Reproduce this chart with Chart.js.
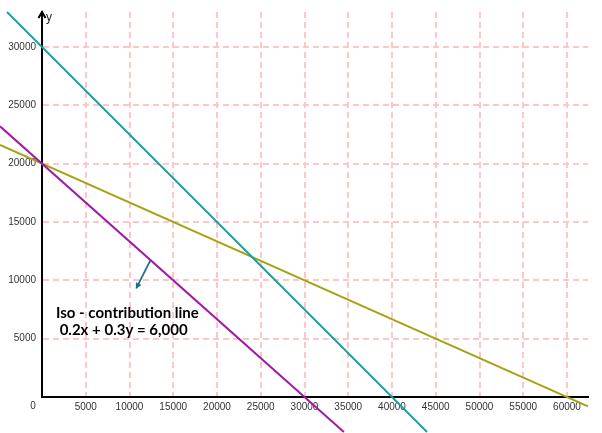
<!DOCTYPE html>
<html><head><meta charset="utf-8">
<script src="https://cdn.jsdelivr.net/npm/chart.js@4"></script>
<style>html,body{margin:0;padding:0;background:#fff}</style>
</head><body>
<canvas id="c" width="602" height="433"></canvas>
<script>
// Tick values
const xTicks = [0, 5000, 10000, 15000, 20000, 25000, 30000, 35000, 40000, 45000, 50000, 55000, 60000];
const yTicks = [0, 5000, 10000, 15000, 20000, 25000, 30000];

// Constraint lines (end points)
const tealX = [-4000, 44000];
const tealY = [33000, -3000];
const purpleX = [-4800, 34500];
const purpleY = [23200, -3000];
const oliveX = [-4800, 62400];
const oliveY = [21600, -800];

// Annotation
const annotLines = ['Iso - contribution line', ' 0.2x + 0.3y = 6,000'];
const annotPos = [1600, 7150];       // data coords of text start
const arrowFrom = [12400, 11733];
const arrowTo = [10720, 9244];

const toPts = (xs, ys) => xs.map((x, i) => ({x: x, y: ys[i]}));

const overlay = {
  id: 'overlay',
  afterDatasetsDraw(chart) {
    const ctx = chart.ctx, xs = chart.scales.x, ys = chart.scales.y;
    const ox = xs.getPixelForValue(0), oy = ys.getPixelForValue(0);
    const top = chart.chartArea.top;
    ctx.save();
    // y-axis arrow head
    ctx.strokeStyle = '#000'; ctx.lineWidth = 2;
    ctx.beginPath();
    ctx.moveTo(ox - 3.5, top + 6); ctx.lineTo(ox, top); ctx.lineTo(ox + 3.5, top + 6);
    ctx.stroke();
    // y label
    ctx.fillStyle = '#222';
    ctx.font = '12px "Liberation Sans", Arial, sans-serif';
    ctx.textBaseline = 'alphabetic'; ctx.textAlign = 'left';
    ctx.fillText('y', ox + 4, top + 9);
    // origin label
    ctx.font = '10px "Liberation Sans", Arial, sans-serif';
    ctx.fillStyle = '#333'; ctx.textAlign = 'center'; ctx.textBaseline = 'middle';
    ctx.fillText('0', ox - 9, oy + 9);
    // annotation arrow
    const ax1 = xs.getPixelForValue(arrowFrom[0]), ay1 = ys.getPixelForValue(arrowFrom[1]);
    const ax2 = xs.getPixelForValue(arrowTo[0]), ay2 = ys.getPixelForValue(arrowTo[1]);
    ctx.strokeStyle = '#1f6e8c'; ctx.fillStyle = '#1f6e8c'; ctx.lineWidth = 1.8;
    const ang = Math.atan2(ay2 - ay1, ax2 - ax1);
    ctx.beginPath(); ctx.moveTo(ax1, ay1);
    ctx.lineTo(ax2 - 4 * Math.cos(ang), ay2 - 4 * Math.sin(ang)); ctx.stroke();
    ctx.beginPath();
    ctx.moveTo(ax2, ay2);
    ctx.lineTo(ax2 - 7 * Math.cos(ang - 0.45), ay2 - 7 * Math.sin(ang - 0.45));
    ctx.lineTo(ax2 - 7 * Math.cos(ang + 0.45), ay2 - 7 * Math.sin(ang + 0.45));
    ctx.closePath(); ctx.fill();
    // annotation text
    ctx.fillStyle = '#000';
    ctx.font = 'bold 15px Lato, "Open Sans", sans-serif';
    ctx.textAlign = 'left'; ctx.textBaseline = 'middle';
    const tx = xs.getPixelForValue(annotPos[0]), ty = ys.getPixelForValue(annotPos[1]);
    annotLines.forEach((t, i) => ctx.fillText(t, tx, ty + i * 17));
    ctx.restore();
  }
};

const gridColor = '#ffc6c6';

new Chart(document.getElementById('c'), {
  type: 'scatter',
  data: {
    datasets: [
      {data: toPts(tealX, tealY), borderColor: '#17a2a0'},
      {data: toPts(purpleX, purpleY), borderColor: '#a01aa8'},
      {data: toPts(oliveX, oliveY), borderColor: '#a3a312'}
    ].map(d => Object.assign(d, {showLine: true, pointRadius: 0, borderWidth: 2, clip: false, tension: 0}))
  },
  options: {
    responsive: false,
    animation: false,
    devicePixelRatio: 1,
    layout: {padding: {top: 5, right: 14, left: 0, bottom: 0}},
    plugins: {legend: {display: false}, tooltip: {enabled: false}},
    scales: {
      x: {
        type: 'linear', min: 0, max: 62400,
        afterBuildTicks: s => { s.ticks = xTicks.map(v => ({value: v})); },
        afterFit: s => { s.height = 36; },
        grid: {color: gridColor, lineWidth: 2, drawTicks: false},
        border: {display: true, color: '#000', width: 2, dash: [6, 4]},
        ticks: {
          padding: 4, maxRotation: 0, autoSkip: false, color: '#333',
          font: {family: '"Liberation Sans", Arial, sans-serif', size: 10},
          callback: v => v === 0 ? '' : String(v)
        }
      },
      y: {
        type: 'linear', min: 0, max: 33000,
        afterBuildTicks: s => { s.ticks = yTicks.map(v => ({value: v})); },
        afterFit: s => { s.width = 42; },
        grid: {color: gridColor, lineWidth: 2, drawTicks: false},
        border: {display: true, color: '#000', width: 2, dash: [6, 4]},
        ticks: {
          padding: 6, autoSkip: false, color: '#333',
          font: {family: '"Liberation Sans", Arial, sans-serif', size: 10},
          callback: v => v === 0 ? '' : String(v)
        }
      }
    }
  },
  plugins: [overlay]
});
</script>
</body></html>
